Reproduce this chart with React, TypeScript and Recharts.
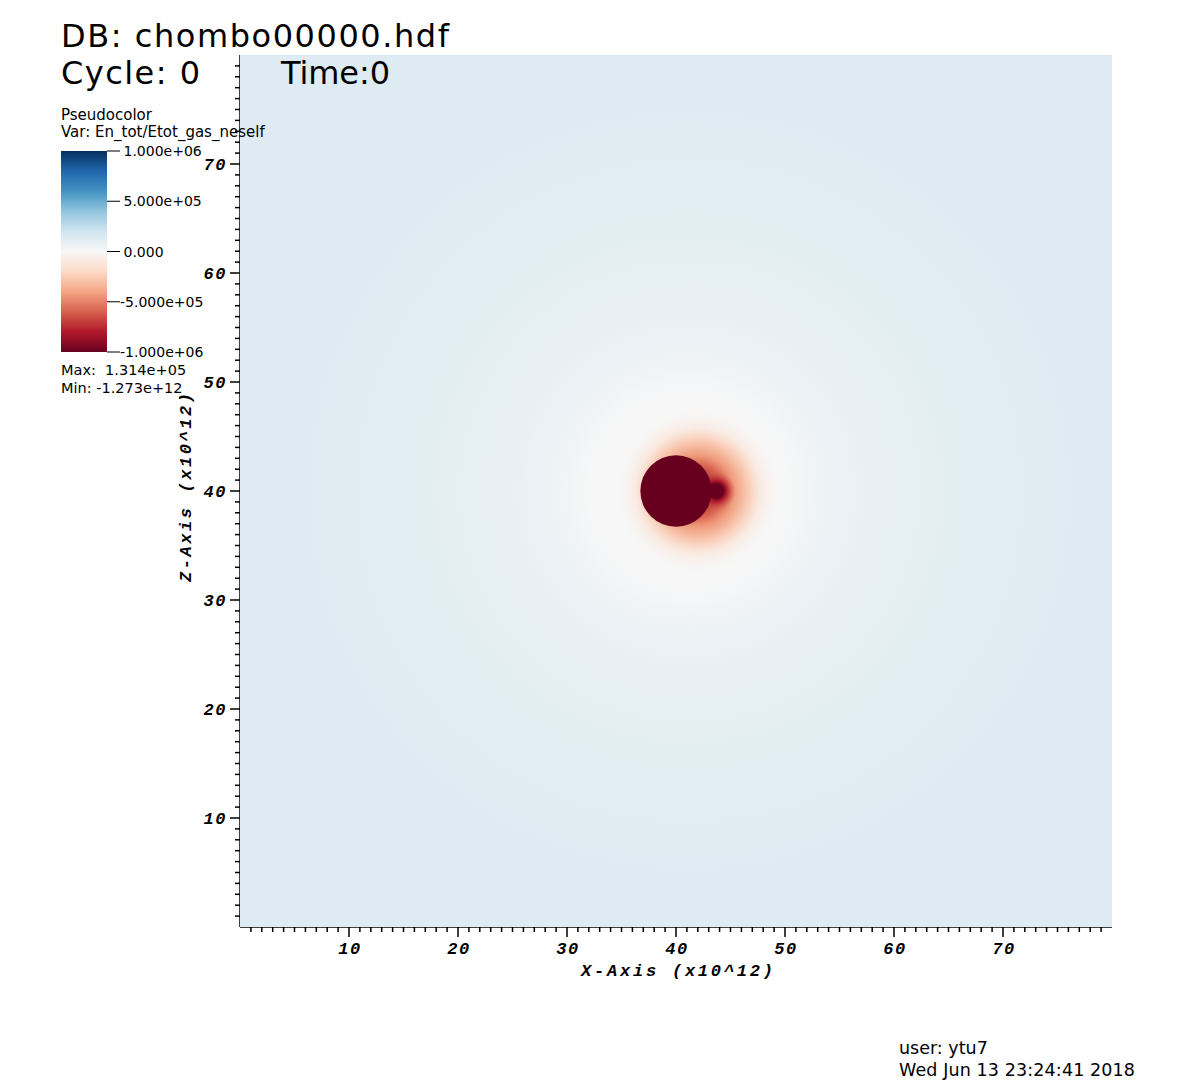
import React from 'react';
import { ScatterChart, Scatter, XAxis, YAxis, CartesianGrid } from 'recharts';

// ---- data (x and z in units of 10^12) ----
const colorTable = ['#67001f', '#b2182b', '#d6604d', '#f4a582', '#fddbc7', '#f7f7f7', '#d1e5f0', '#92c5de', '#4393c3', '#2166ac', '#053061'];
const colorMin = -1e6;
const colorMax = 1e6;
const legendTicks = [1e6, 5e5, 0, -5e5, -1e6];
const legendLabels = ['1.000e+06', '5.000e+05', '0.000', '-5.000e+05', '-1.000e+06'];

const majorTicks = [10, 20, 30, 40, 50, 60, 70];
const minorTicks = [
  1, 2, 3, 4, 5, 6, 7, 8, 9, 10, 11, 12, 13, 14, 15, 16, 17, 18, 19, 20,
  21, 22, 23, 24, 25, 26, 27, 28, 29, 30, 31, 32, 33, 34, 35, 36, 37, 38, 39, 40,
  41, 42, 43, 44, 45, 46, 47, 48, 49, 50, 51, 52, 53, 54, 55, 56, 57, 58, 59, 60,
  61, 62, 63, 64, 65, 66, 67, 68, 69, 70, 71, 72, 73, 74, 75, 76, 77, 78, 79,
];

// background field around the star: radius -> value
const ambient = [{ x: 41.2, z: 40, r: 60 }];
const ambientRadii = [0, 8.5, 13, 18, 24, 37, 60];
const ambientValues = [0, 0, 5.5e4, 8.5e4, 1.05e5, 1.3e5, 1.314e5];

// negative glow, shifted toward the companion
const glow = [{ x: 42.0, z: 40, r: 8 }];
const glowRadii = [0, 2.3, 3.2, 4.6, 5.8, 7, 8];
const glowValues = [-1e6, -6e5, -4.4e5, -2.8e5, -1.4e5, -5e4, 0];
const glowAlpha = [1, 1, 1, 0.9, 0.6, 0.25, 0];

// companion and its halo
const companionHalo = [{ x: 43.7, z: 40, r: 1.8 }];
const companionHaloRadii = [0, 0.65, 1.0, 1.8];
const companionHaloValues = [-1.273e12, -1.273e12, -8e5, -6e5];
const companionHaloAlpha = [1, 1, 0.9, 0];

const primary = [{ x: 40.0, z: 40.0, r: 3.27, value: -1.273e12 }];
const companion = [{ x: 43.7, z: 40.0, r: 0.65, value: -1.273e12 }];

// ---- layout ----
const W = 1200;
const H = 1092;
const PLOT = { left: 240, top: 55, right: 1112, bottom: 927 };
const PX_PER_UNIT = (PLOT.right - PLOT.left) / 80;
const SANS = '"DejaVu Sans", sans-serif';
const MONO = '"Liberation Mono", monospace';

const hexToRgb = (h: string) => [1, 3, 5].map((i) => parseInt(h.slice(i, i + 2), 16));

const colorOf = (v: number) => {
  const t = Math.min(1, Math.max(0, (v - colorMin) / (colorMax - colorMin)));
  const p = t * (colorTable.length - 1);
  const i = Math.min(colorTable.length - 2, Math.floor(p));
  const f = p - i;
  const a = hexToRgb(colorTable[i]);
  const b = hexToRgb(colorTable[i + 1]);
  return `rgb(${a.map((ai, k) => Math.round(ai + (b[k] - ai) * f)).join(',')})`;
};

const radialShape = (id: string, radii: number[], values: number[], alpha?: number[]) => (props: any) => {
  const { cx, cy, payload } = props;
  return (
    <g>
      <defs>
        <radialGradient id={id} cx="50%" cy="50%" r="50%">
          {radii.map((d, i) => (
            <stop key={i} offset={d / payload.r} stopColor={colorOf(values[i])} stopOpacity={alpha ? alpha[i] : 1} />
          ))}
        </radialGradient>
        <clipPath id={`${id}-clip`}>
          <rect x={PLOT.left} y={PLOT.top} width={PLOT.right - PLOT.left} height={PLOT.bottom - PLOT.top} />
        </clipPath>
      </defs>
      <circle cx={cx} cy={cy} r={payload.r * PX_PER_UNIT} fill={`url(#${id})`} clipPath={`url(#${id}-clip)`} />
    </g>
  );
};

const discShape = (props: any) => {
  const { cx, cy, payload } = props;
  return <circle cx={cx} cy={cy} r={payload.r * PX_PER_UNIT} fill={colorOf(payload.value)} />;
};

const tickFont = { fontFamily: MONO, fontWeight: 700, fontStyle: 'italic', fontSize: 17, letterSpacing: 1.5 } as const;

const XTick = (props: any) => {
  const { x, y, payload } = props;
  const major = majorTicks.includes(payload.value);
  return (
    <g>
      <line x1={x} x2={x} y1={y} y2={y + (major ? 10 : 5)} stroke="#000" strokeWidth={1.5} />
      {major && (
        <text x={x + 1} y={y + 27} textAnchor="middle" fill="#000" style={tickFont}>
          {payload.value}
        </text>
      )}
    </g>
  );
};

const YTick = (props: any) => {
  const { x, y, payload } = props;
  const major = majorTicks.includes(payload.value);
  return (
    <g>
      <line x1={x - (major ? 10 : 5)} x2={x} y1={y} y2={y} stroke="#000" strokeWidth={1.5} />
      {major && (
        <text x={x - 13} y={y + 6} textAnchor="end" fill="#000" style={tickFont}>
          {payload.value}
        </text>
      )}
    </g>
  );
};

const axisLine = { stroke: '#000', strokeWidth: 1.5 };

const BAR = { x: 61, y: 151, w: 46, h: 201 };

const Annotations = () => (
  <svg width={W} height={H} style={{ position: 'absolute', left: 0, top: 0, pointerEvents: 'none' }}>
    <defs>
      <linearGradient id="legendRamp" x1="0" y1="1" x2="0" y2="0">
        {colorTable.map((c, i) => (
          <stop key={c} offset={i / (colorTable.length - 1)} stopColor={c} />
        ))}
      </linearGradient>
    </defs>
    <g fontFamily={SANS} fill="#000">
      <text x={61} y={46.5} fontSize={32} textLength={388} lengthAdjust="spacing">DB: chombo00000.hdf</text>
      <text x={61} y={84} fontSize={32} textLength={139} lengthAdjust="spacing">Cycle: 0</text>
      <text x={281} y={84} fontSize={32} textLength={109} lengthAdjust="spacing">Time:0</text>

      <text x={61} y={120} fontSize={15}>Pseudocolor</text>
      <text x={61} y={137} fontSize={15}>Var: En_tot/Etot_gas_neself</text>
      <rect x={BAR.x} y={BAR.y} width={BAR.w} height={BAR.h} fill="url(#legendRamp)" />
      {legendTicks.map((v, i) => {
        const ty = BAR.y + ((colorMax - v) / (colorMax - colorMin)) * BAR.h;
        return (
          <g key={v}>
            <line x1={BAR.x + BAR.w} x2={BAR.x + BAR.w + 13} y1={ty} y2={ty} stroke="#000" strokeWidth={1} />
            <text x={v < 0 ? 120 : 123.5} y={ty + 5} fontSize={14}>{legendLabels[i]}</text>
          </g>
        );
      })}
      <text x={61} y={375} fontSize={14.5} style={{ whiteSpace: 'pre' }}>Max:  1.314e+05</text>
      <text x={61} y={393} fontSize={14.5} style={{ whiteSpace: 'pre' }}>Min: -1.273e+12</text>

      <text x={899} y={1054} fontSize={17.5}>user: ytu7</text>
      <text x={899} y={1076} fontSize={17.5} textLength={236} lengthAdjust="spacing">Wed Jun 13 23:24:41 2018</text>
    </g>
    <g fill="#000" style={{ fontFamily: MONO, fontWeight: 700, fontStyle: 'italic', fontSize: 17 }}>
      <text x={677} y={975.5} textAnchor="middle" textLength={192} lengthAdjust="spacing">X-Axis (x10^12)</text>
      <text x={190.5} y={487.5} textAnchor="middle" textLength={189} lengthAdjust="spacing" transform="rotate(-90 190.5 487.5)">
        Z-Axis (x10^12)
      </text>
    </g>
  </svg>
);

export default function App() {
  return (
    <div style={{ position: 'absolute', left: 0, top: 0, width: W, height: H, background: '#fff' }}>
      <ScatterChart width={W} height={H} margin={{ top: PLOT.top, right: W - PLOT.right, bottom: 0, left: 0 }}>
        <CartesianGrid horizontal={false} vertical={false} fill={colorOf(1.314e5)} />
        <XAxis
          dataKey="x"
          type="number"
          domain={[0, 80]}
          allowDataOverflow
          height={H - PLOT.bottom}
          ticks={minorTicks}
          interval={0}
          tick={XTick}
          tickLine={false}
          tickSize={0}
          tickMargin={0}
          axisLine={axisLine}
        />
        <XAxis xAxisId="top" orientation="top" type="number" domain={[0, 80]} height={0} tick={false} tickLine={false} axisLine={axisLine} />
        <YAxis
          dataKey="z"
          type="number"
          domain={[0, 80]}
          allowDataOverflow
          width={PLOT.left}
          ticks={minorTicks}
          interval={0}
          tick={YTick}
          tickLine={false}
          tickSize={0}
          tickMargin={0}
          axisLine={axisLine}
        />
        <YAxis yAxisId="right" orientation="right" type="number" domain={[0, 80]} width={0} tick={false} tickLine={false} axisLine={axisLine} />
        <Scatter data={ambient} isAnimationActive={false} shape={radialShape('ambientGrad', ambientRadii, ambientValues)} />
        <Scatter data={glow} isAnimationActive={false} shape={radialShape('glowGrad', glowRadii, glowValues, glowAlpha)} />
        <Scatter data={companionHalo} isAnimationActive={false} shape={radialShape('haloGrad', companionHaloRadii, companionHaloValues, companionHaloAlpha)} />
        <Scatter data={primary} isAnimationActive={false} shape={discShape} />
        <Scatter data={companion} isAnimationActive={false} shape={discShape} />
      </ScatterChart>
      <Annotations />
    </div>
  );
}
